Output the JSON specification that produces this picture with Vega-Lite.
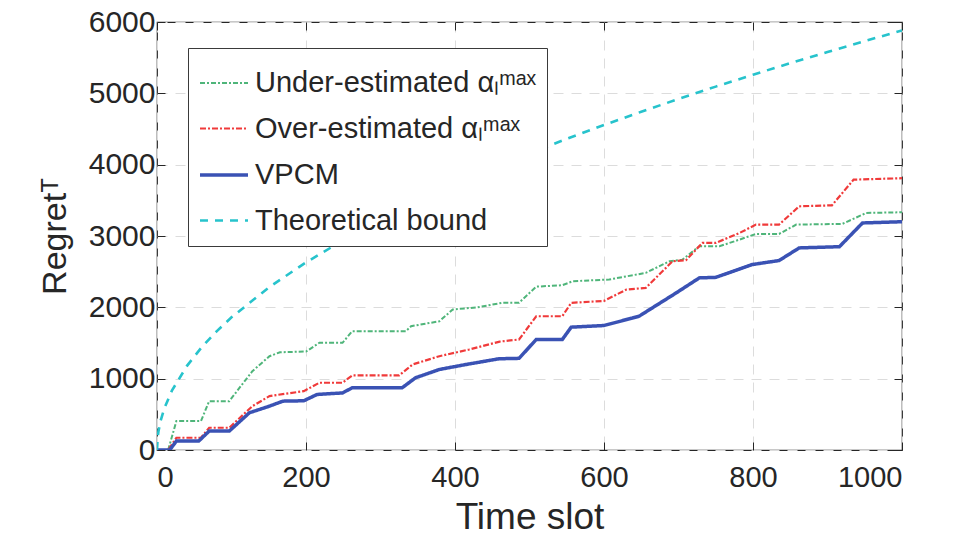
{
  "$schema": "https://vega.github.io/schema/vega-lite/v6.json",
  "width": 745,
  "height": 428,
  "autosize": {"type": "none"},
  "padding": {"left": 157, "top": 22, "right": 53, "bottom": 89},
  "background": "white",
  "data": {"values": [
    {"s": "Under", "t": 0, "v": 0}, {"s": "Under", "t": 15, "v": 0}, {"s": "Under", "t": 26, "v": 405}, {"s": "Under", "t": 59, "v": 405}, {"s": "Under", "t": 70, "v": 685}, {"s": "Under", "t": 97, "v": 685}, {"s": "Under", "t": 128, "v": 1105}, {"s": "Under", "t": 151, "v": 1315}, {"s": "Under", "t": 165, "v": 1370}, {"s": "Under", "t": 200, "v": 1380}, {"s": "Under", "t": 218, "v": 1503}, {"s": "Under", "t": 249, "v": 1503}, {"s": "Under", "t": 262, "v": 1665}, {"s": "Under", "t": 334, "v": 1665}, {"s": "Under", "t": 341, "v": 1735}, {"s": "Under", "t": 379, "v": 1805}, {"s": "Under", "t": 397, "v": 1970}, {"s": "Under", "t": 430, "v": 2000}, {"s": "Under", "t": 464, "v": 2065}, {"s": "Under", "t": 486, "v": 2065}, {"s": "Under", "t": 509, "v": 2290}, {"s": "Under", "t": 544, "v": 2310}, {"s": "Under", "t": 558, "v": 2366}, {"s": "Under", "t": 607, "v": 2390}, {"s": "Under", "t": 656, "v": 2483}, {"s": "Under", "t": 688, "v": 2646}, {"s": "Under", "t": 705, "v": 2667}, {"s": "Under", "t": 728, "v": 2856}, {"s": "Under", "t": 755, "v": 2856}, {"s": "Under", "t": 782, "v": 2950}, {"s": "Under", "t": 804, "v": 3029}, {"s": "Under", "t": 835, "v": 3029}, {"s": "Under", "t": 858, "v": 3160}, {"s": "Under", "t": 920, "v": 3170}, {"s": "Under", "t": 952, "v": 3323}, {"s": "Under", "t": 1000, "v": 3333},
    {"s": "Over", "t": 0, "v": 0}, {"s": "Over", "t": 15, "v": 0}, {"s": "Over", "t": 26, "v": 172}, {"s": "Over", "t": 59, "v": 172}, {"s": "Over", "t": 70, "v": 312}, {"s": "Over", "t": 97, "v": 312}, {"s": "Over", "t": 128, "v": 615}, {"s": "Over", "t": 151, "v": 755}, {"s": "Over", "t": 160, "v": 770}, {"s": "Over", "t": 197, "v": 825}, {"s": "Over", "t": 218, "v": 943}, {"s": "Over", "t": 249, "v": 943}, {"s": "Over", "t": 262, "v": 1045}, {"s": "Over", "t": 325, "v": 1045}, {"s": "Over", "t": 343, "v": 1199}, {"s": "Over", "t": 379, "v": 1315}, {"s": "Over", "t": 419, "v": 1409}, {"s": "Over", "t": 460, "v": 1520}, {"s": "Over", "t": 486, "v": 1549}, {"s": "Over", "t": 509, "v": 1875}, {"s": "Over", "t": 544, "v": 1875}, {"s": "Over", "t": 556, "v": 2063}, {"s": "Over", "t": 600, "v": 2090}, {"s": "Over", "t": 630, "v": 2249}, {"s": "Over", "t": 656, "v": 2272}, {"s": "Over", "t": 692, "v": 2646}, {"s": "Over", "t": 710, "v": 2660}, {"s": "Over", "t": 732, "v": 2903}, {"s": "Over", "t": 750, "v": 2903}, {"s": "Over", "t": 782, "v": 3043}, {"s": "Over", "t": 804, "v": 3160}, {"s": "Over", "t": 835, "v": 3160}, {"s": "Over", "t": 862, "v": 3416}, {"s": "Over", "t": 906, "v": 3430}, {"s": "Over", "t": 935, "v": 3790}, {"s": "Over", "t": 1000, "v": 3810},
    {"s": "VPCM", "t": 0, "v": 0}, {"s": "VPCM", "t": 17, "v": 0}, {"s": "VPCM", "t": 26, "v": 125}, {"s": "VPCM", "t": 56, "v": 125}, {"s": "VPCM", "t": 70, "v": 265}, {"s": "VPCM", "t": 97, "v": 265}, {"s": "VPCM", "t": 124, "v": 522}, {"s": "VPCM", "t": 151, "v": 615}, {"s": "VPCM", "t": 169, "v": 685}, {"s": "VPCM", "t": 197, "v": 690}, {"s": "VPCM", "t": 215, "v": 779}, {"s": "VPCM", "t": 249, "v": 800}, {"s": "VPCM", "t": 262, "v": 872}, {"s": "VPCM", "t": 329, "v": 872}, {"s": "VPCM", "t": 347, "v": 1012}, {"s": "VPCM", "t": 379, "v": 1129}, {"s": "VPCM", "t": 415, "v": 1199}, {"s": "VPCM", "t": 459, "v": 1279}, {"s": "VPCM", "t": 486, "v": 1285}, {"s": "VPCM", "t": 509, "v": 1549}, {"s": "VPCM", "t": 544, "v": 1549}, {"s": "VPCM", "t": 556, "v": 1722}, {"s": "VPCM", "t": 600, "v": 1745}, {"s": "VPCM", "t": 647, "v": 1875}, {"s": "VPCM", "t": 697, "v": 2203}, {"s": "VPCM", "t": 728, "v": 2413}, {"s": "VPCM", "t": 750, "v": 2420}, {"s": "VPCM", "t": 799, "v": 2600}, {"s": "VPCM", "t": 835, "v": 2656}, {"s": "VPCM", "t": 862, "v": 2833}, {"s": "VPCM", "t": 916, "v": 2850}, {"s": "VPCM", "t": 947, "v": 3183}, {"s": "VPCM", "t": 1000, "v": 3200},
    {"s": "Bound", "t": 0, "v": 0}, {"s": "Bound", "t": 1, "v": 190}, {"s": "Bound", "t": 2, "v": 263}, {"s": "Bound", "t": 5, "v": 416}, {"s": "Bound", "t": 10, "v": 588}, {"s": "Bound", "t": 20, "v": 832}, {"s": "Bound", "t": 40, "v": 1176}, {"s": "Bound", "t": 60, "v": 1441}, {"s": "Bound", "t": 80, "v": 1664}, {"s": "Bound", "t": 100, "v": 1860}, {"s": "Bound", "t": 150, "v": 2278}, {"s": "Bound", "t": 200, "v": 2630}, {"s": "Bound", "t": 250, "v": 2941}, {"s": "Bound", "t": 300, "v": 3222}, {"s": "Bound", "t": 350, "v": 3480}, {"s": "Bound", "t": 400, "v": 3720}, {"s": "Bound", "t": 450, "v": 3946}, {"s": "Bound", "t": 500, "v": 4159}, {"s": "Bound", "t": 550, "v": 4362}, {"s": "Bound", "t": 600, "v": 4556}, {"s": "Bound", "t": 650, "v": 4742}, {"s": "Bound", "t": 700, "v": 4921}, {"s": "Bound", "t": 750, "v": 5094}, {"s": "Bound", "t": 800, "v": 5261}, {"s": "Bound", "t": 850, "v": 5423}, {"s": "Bound", "t": 900, "v": 5580}, {"s": "Bound", "t": 950, "v": 5733}, {"s": "Bound", "t": 1000, "v": 5882}
  ]},
  "transform": [
    {"calculate": "datum.s === 'Under' ? 'Under-estimated αₗᵐᵃˣ' : datum.s === 'Over' ? 'Over-estimated αₗᵐᵃˣ' : datum.s === 'VPCM' ? 'VPCM' : 'Theoretical bound'", "as": "series"}
  ],
  "layer": [
    {
      "mark": {"type": "line", "clip": true},
      "encoding": {
        "x": {"field": "t", "type": "quantitative",
              "scale": {"domain": [0, 1000], "nice": false, "zero": false},
              "axis": {"orient": "bottom", "values": [0, 200, 400, 600, 800, 1000], "format": "d", "title": "Time slot", "grid": true}},
        "y": {"field": "v", "type": "quantitative",
              "scale": {"domain": [0, 6000], "nice": false},
              "axis": {"orient": "left", "values": [0, 1000, 2000, 3000, 4000, 5000, 6000], "format": "d", "title": "Regretᵀ", "grid": true}},
        "detail": {"field": "series"},
        "color": {"field": "series", "type": "nominal",
                  "scale": {"domain": ["Under-estimated αₗᵐᵃˣ", "Over-estimated αₗᵐᵃˣ", "VPCM", "Theoretical bound"],
                            "range": ["#4fb57a", "#f03a3a", "#3a52b4", "#27c3cc"]},
                  "legend": {"title": null, "orient": "none", "legendX": 31, "legendY": 26}},
        "strokeDash": {"field": "series", "type": "nominal",
                  "scale": {"domain": ["Under-estimated αₗᵐᵃˣ", "Over-estimated αₗᵐᵃˣ", "VPCM", "Theoretical bound"],
                            "range": [[5, 2, 2, 2], [6, 2, 2, 2], [1, 0], [8, 7]]},
                  "legend": {"title": null, "orient": "none", "legendX": 31, "legendY": 26}},
        "strokeWidth": {"field": "series", "type": "nominal",
                  "scale": {"type": "ordinal", "domain": ["Under-estimated αₗᵐᵃˣ", "Over-estimated αₗᵐᵃˣ", "VPCM", "Theoretical bound"],
                            "range": [2, 2.2, 3.5, 2.6]},
                  "legend": {"title": null, "orient": "none", "legendX": 31, "legendY": 26}}
      }
    },
    {
      "mark": {"type": "point", "opacity": 0},
      "encoding": {
        "x": {"field": "t", "type": "quantitative",
              "axis": {"orient": "top", "values": [0, 200, 400, 600, 800, 1000], "labels": false, "title": null, "grid": false}},
        "y": {"field": "v", "type": "quantitative",
              "axis": {"orient": "right", "values": [0, 1000, 2000, 3000, 4000, 5000, 6000], "labels": false, "title": null, "grid": false}}
      }
    }
  ],
  "resolve": {"axis": {"x": "independent", "y": "independent"}},
  "config": {
    "font": "Liberation Sans",
    "view": {"stroke": "#262626", "strokeWidth": 1.2},
    "axis": {
      "domain": false,
      "tickColor": "#262626",
      "tickSize": -8,
      "tickWidth": 1,
      "labelColor": "#262626",
      "titleColor": "#262626",
      "titleFontWeight": "normal",
      "gridColor": "#dcdcdc",
      "gridDash": [10, 8],
      "gridWidth": 1
    },
    "axisX": {"labelFontSize": 29, "labelPadding": 21, "titlePadding": 7, "titleFontSize": 37},
    "axisY": {"labelFontSize": 30, "labelPadding": 10, "titlePadding": 16, "titleFontSize": 34},
    "legend": {
      "symbolType": "stroke",
      "symbolSize": 2304,
      "labelFontSize": 29,
      "labelColor": "#262626",
      "labelLimit": 420,
      "labelOffset": 5,
      "rowPadding": 5,
      "padding": 10,
      "strokeColor": "#3a3a3a",
      "fillColor": "white",
      "cornerRadius": 0
    }
  }
}
